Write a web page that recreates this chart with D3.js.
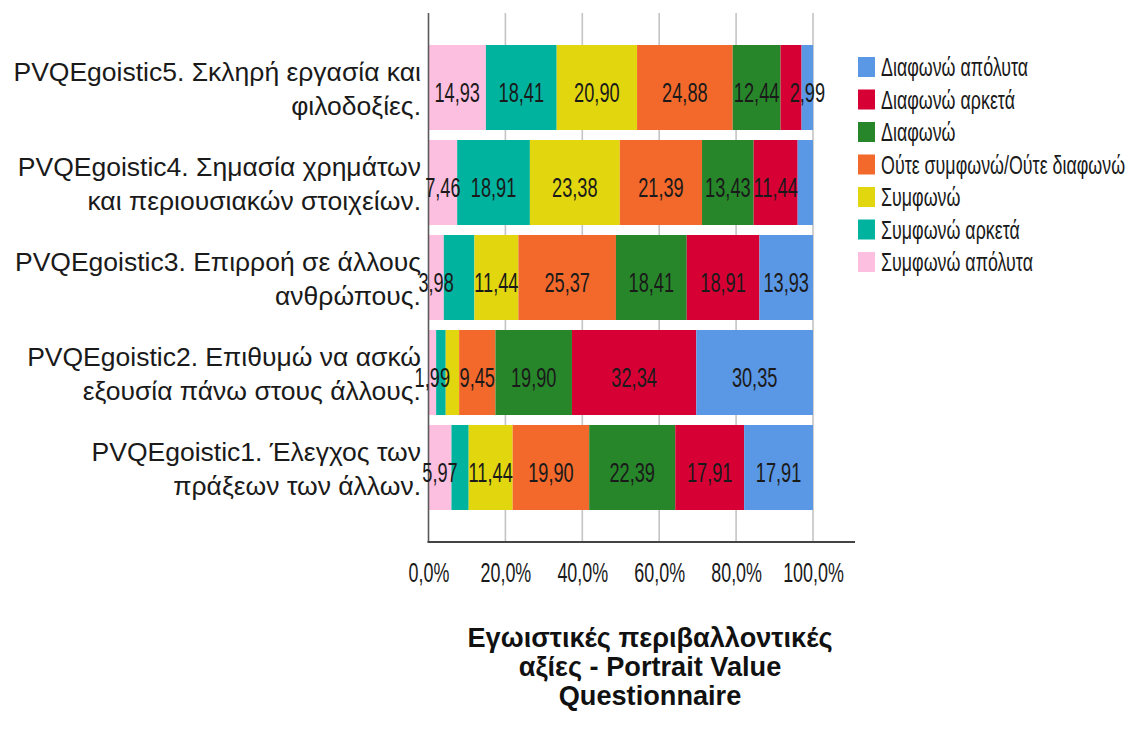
<!DOCTYPE html>
<html>
<head>
<meta charset="utf-8">
<script src="https://cdn.jsdelivr.net/npm/d3@7"></script>
<style>
  html, body { margin: 0; padding: 0; background: #ffffff; }
  svg text { font-family: "Liberation Sans", Arial, sans-serif; }
</style>
</head>
<body>
<svg id="chart" width="1127" height="731"></svg>
<script>
// Questionnaire items, top to bottom (each label is split over two lines)
const categories = [
  "PVQEgoistic5. Σκληρή εργασία και|φιλοδοξίες.",
  "PVQEgoistic4. Σημασία χρημάτων|και περιουσιακών στοιχείων.",
  "PVQEgoistic3. Επιρροή σε άλλους|ανθρώπους.",
  "PVQEgoistic2. Επιθυμώ να ασκώ|εξουσία πάνω στους άλλους.",
  "PVQEgoistic1. Έλεγχος των|πράξεων των άλλων."
];

// Answer categories in stacking order (left to right)
const seriesNames = [
  "Συμφωνώ απόλυτα",
  "Συμφωνώ αρκετά",
  "Συμφωνώ",
  "Ούτε συμφωνώ/Ούτε διαφωνώ",
  "Διαφωνώ",
  "Διαφωνώ αρκετά",
  "Διαφωνώ απόλυτα"
];

const seriesColors = ["#fdbfe0", "#00b39f", "#e2d70f", "#f3692c", "#28862a", "#d70035", "#5a97e4"];

// Percentages per item, in the same order as categories
const agreeFully    = [14.93,  7.46,  3.98,  1.99,  5.97];
const agreeQuite    = [18.41, 18.91,  7.96,  2.49,  4.48];
const agree         = [20.90, 23.38, 11.44,  3.48, 11.44];
const neutral       = [24.88, 21.39, 25.37,  9.45, 19.90];
const disagree      = [12.44, 13.43, 18.41, 19.90, 22.39];
const disagreeQuite = [ 5.47, 11.44, 18.91, 32.34, 17.91];
const disagreeFully = [ 2.99,  3.98, 13.93, 30.35, 17.91];

const seriesValues = [agreeFully, agreeQuite, agree, neutral, disagree, disagreeQuite, disagreeFully];

const tickValues = [0, 20, 40, 60, 80, 100];
const tickLabels = ["0,0%", "20,0%", "40,0%", "60,0%", "80,0%", "100,0%"];

const titleLines = ["Εγωιστικές περιβαλλοντικές", "αξίες - Portrait Value", "Questionnaire"];

const fmt = v => v.toFixed(2).replace(".", ",");

const svg = d3.select("#chart");

const plotTop = 13, plotBottom = 542, plotLeft = 428.5, axisEnd = 855;

const x = d3.scaleLinear().domain([0, 100]).range([plotLeft, 813]);
const y = d3.scaleBand()
  .domain(categories)
  .range([40, 515])
  .paddingInner(10 / 95)
  .paddingOuter(5 / 95);

// gridlines
svg.append("g")
  .selectAll("line")
  .data(tickValues.slice(1))
  .join("line")
  .attr("x1", d => x(d)).attr("x2", d => x(d))
  .attr("y1", plotTop).attr("y2", plotBottom)
  .attr("stroke", "#c4c4c4")
  .attr("stroke-width", 1.6);

// stacked rows
const rows = categories.map((c, i) => {
  const r = { category: c };
  seriesNames.forEach((s, j) => { r[s] = seriesValues[j][i]; });
  return r;
});
const stacked = d3.stack().keys(seriesNames)(rows);

const layers = svg.append("g")
  .selectAll("g")
  .data(stacked)
  .join("g")
  .attr("fill", (d, i) => seriesColors[i]);

layers.selectAll("rect")
  .data(d => d)
  .join("rect")
  .attr("x", d => x(d[0]))
  .attr("y", d => y(d.data.category))
  .attr("width", d => x(d[1]) - x(d[0]))
  .attr("height", y.bandwidth());

// axes lines
svg.append("line")
  .attr("x1", plotLeft).attr("x2", plotLeft)
  .attr("y1", plotTop).attr("y2", plotBottom)
  .attr("stroke", "#5a5a5a").attr("stroke-width", 1.6);
svg.append("line")
  .attr("x1", plotLeft - 1).attr("x2", axisEnd)
  .attr("y1", plotBottom).attr("y2", plotBottom)
  .attr("stroke", "#444").attr("stroke-width", 2);

// left axis with two-line category labels
const yAxis = d3.axisLeft(y).tickSize(0).tickPadding(0);
const gy = svg.append("g")
  .attr("transform", `translate(421,0)`)
  .call(yAxis);
gy.select(".domain").remove();
gy.selectAll("text")
  .attr("x", null).attr("dy", null)
  .attr("font-size", 26.5)
  .attr("fill", "#1a1a1a")
  .attr("font-family", null)
  .attr("text-anchor", "end")
  .each(function(d) {
    const parts = d.split("|");
    const t = d3.select(this).text(null);
    t.append("tspan").attr("x", 0).attr("y", -7).text(parts[0]);
    t.append("tspan").attr("x", 0).attr("y", 27).text(parts[1]);
  });

// value labels: drawn in stacking order, skipped when they would collide in the same row
const labelScale = 0.65;
const labelG = svg.append("g");
const placed = {};
stacked.forEach((layer) => {
  layer.forEach(d => {
    const cat = d.data.category;
    const v = d[1] - d[0];
    const cx = (x(d[0]) + x(d[1])) / 2;
    const t = labelG.append("text")
      .attr("transform", `translate(${cx},${y(cat) + y.bandwidth() / 2 + 14}) scale(${labelScale},1)`)
      .attr("text-anchor", "middle")
      .attr("font-size", 28)
      .attr("fill", "#1a1a1a")
      .text(fmt(v));
    const w = t.node().getComputedTextLength() * labelScale;
    const box = [cx - w / 2, cx + w / 2];
    placed[cat] = placed[cat] || [];
    const hit = placed[cat].some(b => box[0] < b[1] && box[1] > b[0]);
    if (hit) t.remove(); else placed[cat].push(box);
  });
});

// bottom axis
const xAxis = d3.axisBottom(x)
  .tickValues(tickValues)
  .tickFormat((d, i) => tickLabels[i])
  .tickSize(0);
const gx = svg.append("g")
  .attr("transform", `translate(0,${plotBottom})`)
  .call(xAxis);
gx.select(".domain").remove();
gx.selectAll("text")
  .attr("y", 0).attr("dy", null)
  .attr("transform", "translate(0,39.5) scale(0.64,1)")
  .attr("font-size", 28)
  .attr("fill", "#1a1a1a")
  .attr("font-family", null);

// legend
const legendNames = seriesNames.slice().reverse();
const legendColors = seriesColors.slice().reverse();
const legend = svg.append("g")
  .selectAll("g")
  .data(legendNames)
  .join("g")
  .attr("transform", (d, i) => `translate(858,${67 + i * 32.5})`);
legend.append("rect")
  .attr("x", 0).attr("y", -10)
  .attr("width", 17).attr("height", 20)
  .attr("fill", (d, i) => legendColors[i]);
legend.append("text")
  .attr("transform", "translate(23,9) scale(0.7,1)")
  .attr("font-size", 25.5)
  .attr("fill", "#1a1a1a")
  .text(d => d);

// title below the axis
svg.append("text")
  .attr("transform", "translate(650,0) scale(0.97,1)")
  .attr("text-anchor", "middle")
  .attr("font-size", 28)
  .attr("font-weight", "bold")
  .attr("fill", "#111")
  .selectAll("tspan")
  .data(titleLines)
  .join("tspan")
  .attr("x", 0)
  .attr("y", (d, i) => 647 + i * 29)
  .text(d => d);
</script>
</body>
</html>
